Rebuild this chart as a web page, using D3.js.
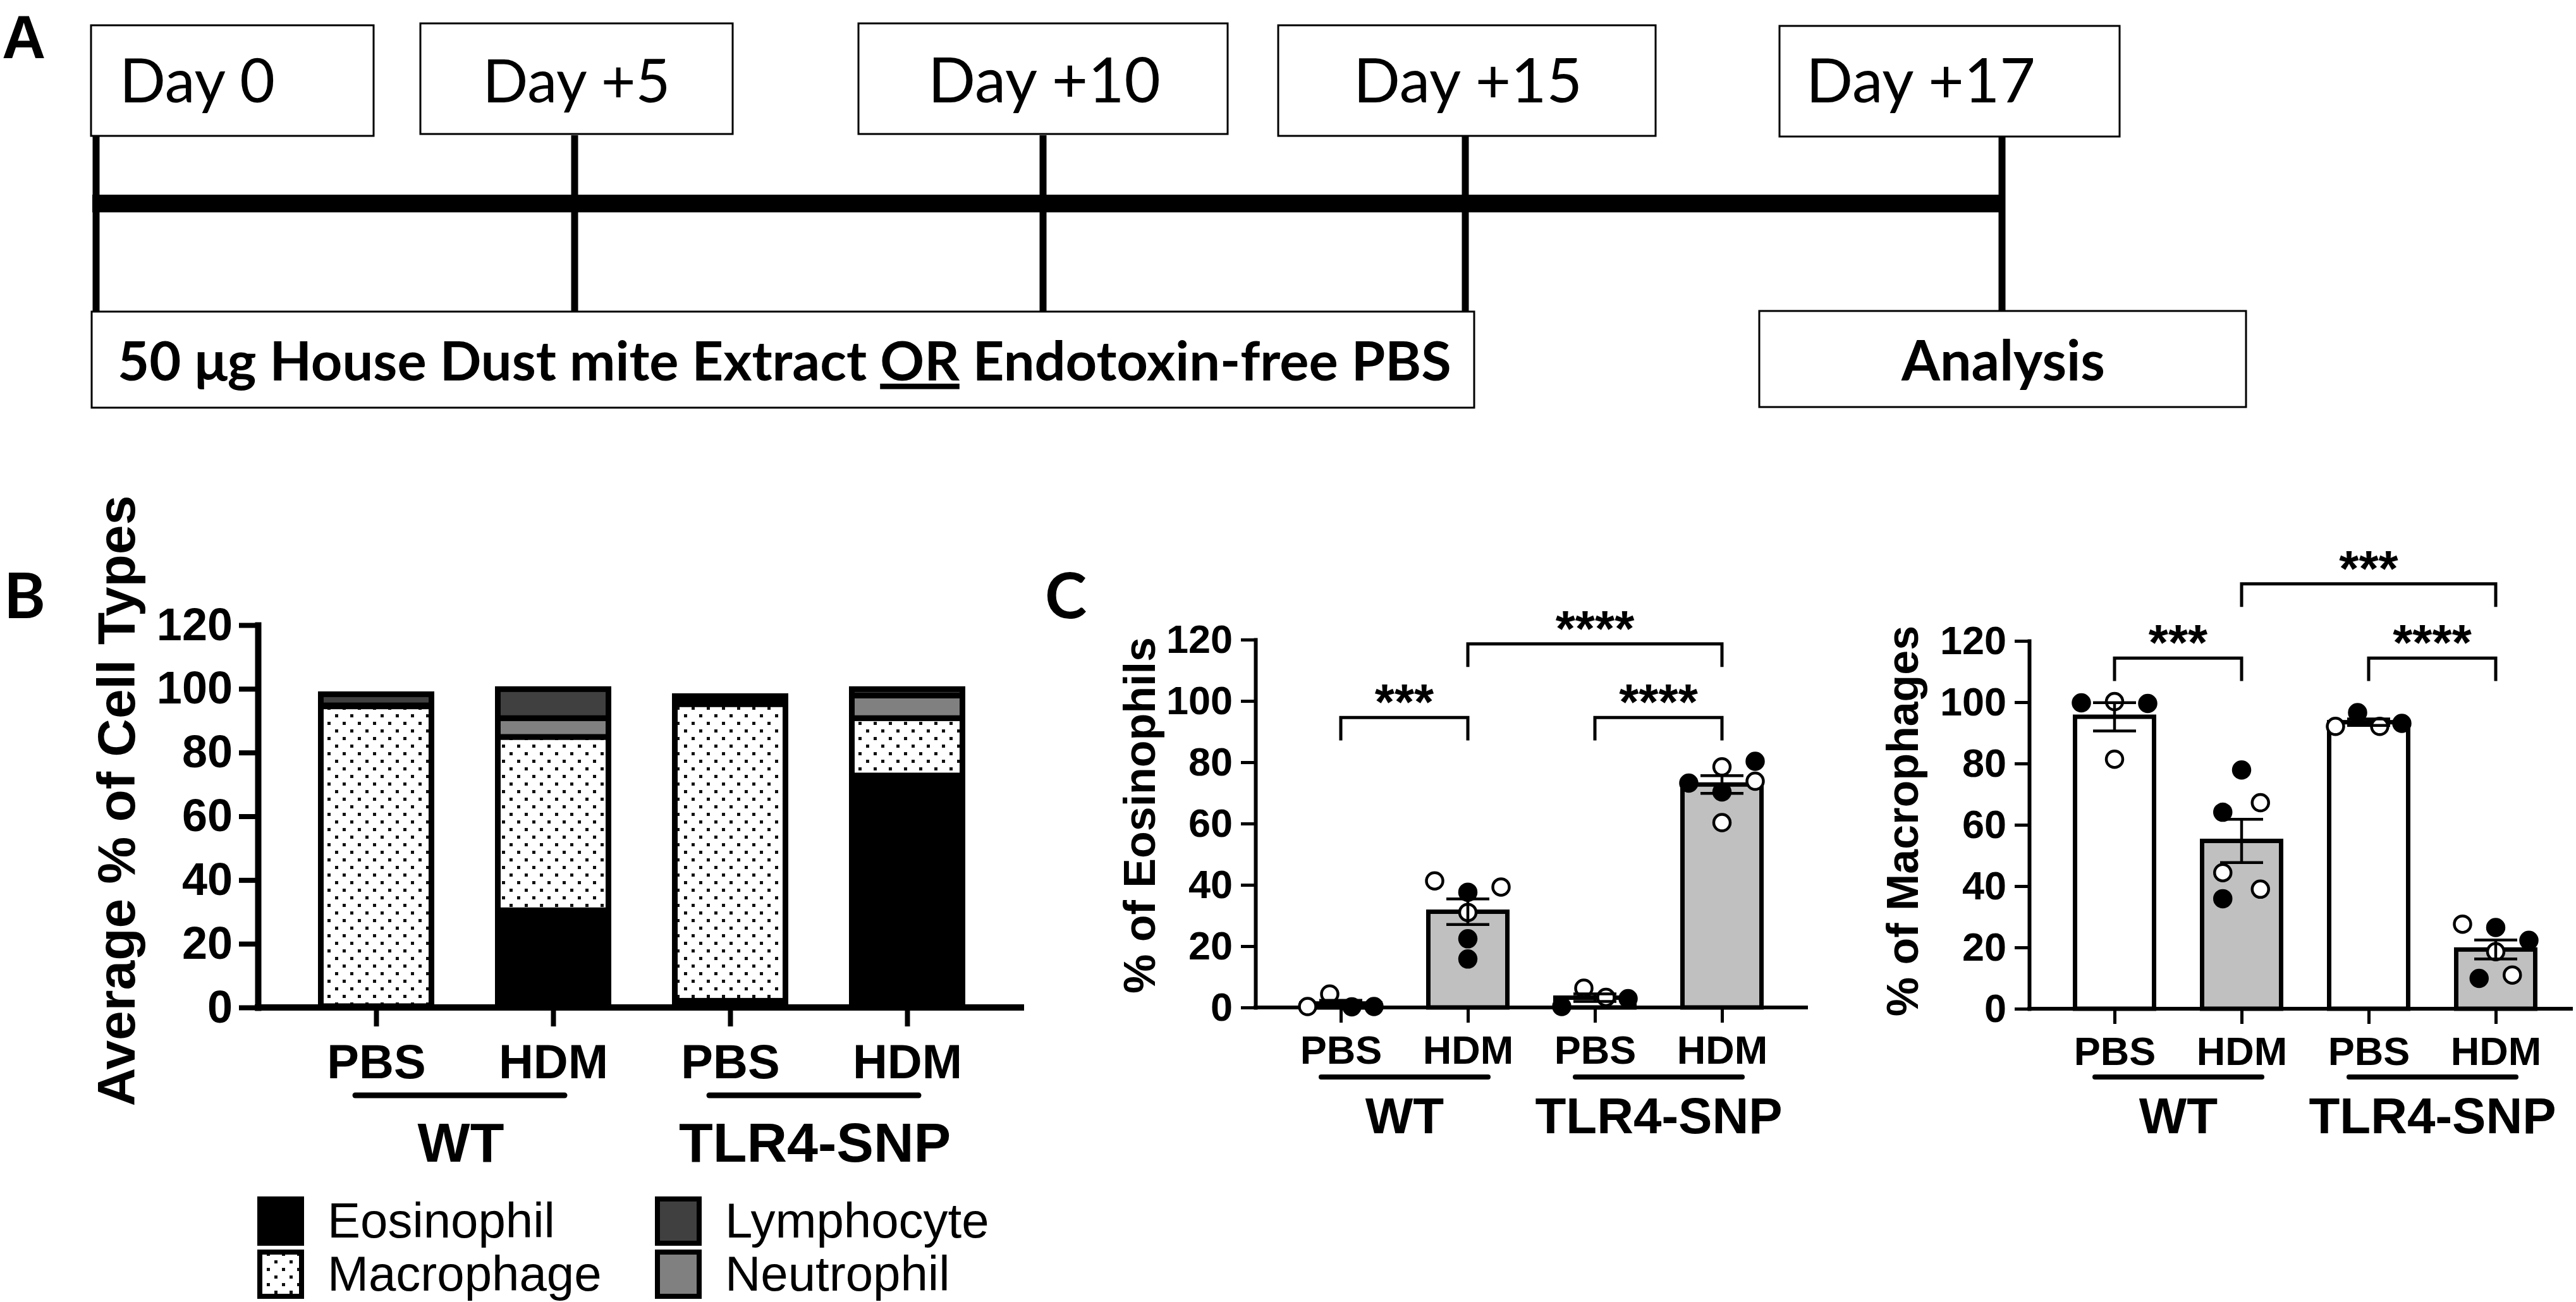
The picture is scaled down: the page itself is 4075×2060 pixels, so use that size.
<!DOCTYPE html>
<html><head><meta charset="utf-8">
<script src="https://cdn.jsdelivr.net/npm/d3@7"></script>
<style>html,body{margin:0;padding:0;background:#fff}</style>
</head><body><div id="chart"></div>
<script>
// ================= DATA =================
// Panel A – timeline
const timelineDays = [0, 5, 10, 15, 17];
const timelineLabels = ["Day 0", "Day +5", "Day +10", "Day +15", "Day +17"];
const treatmentTextBefore = "50 μg House Dust mite Extract ";
const treatmentTextOr = "OR";
const treatmentTextAfter = " Endotoxin-free PBS";
const analysisText = "Analysis";

// Panels B / C – categories
const conditions = ["WT|PBS", "WT|HDM", "TLR4-SNP|PBS", "TLR4-SNP|HDM"];
const genotypes = ["WT", "TLR4-SNP"];
const yTicks = [0, 20, 40, 60, 80, 100, 120];

// Panel B – average % of cell types (stack bottom -> top)
const cellTypes = ["Eosinophil", "Macrophage", "Neutrophil", "Lymphocyte"];
const eosinophilAvg = [0.4, 30.5, 2.1, 72.8];
const macrophageAvg = [94.1, 54.4, 93.1, 18.0];
const neutrophilAvg = [0.3, 5.9, 1.3, 7.1];
const lymphocyteAvg = [3.5, 9.1, 1.2, 2.0];
const legendOrder = ["Eosinophil", "Macrophage", "Lymphocyte", "Neutrophil"];

// Panel C – individual animals (% of Eosinophils)
const eosWT_PBS = [0.3, 4.4, 0.2, 0.3];
const eosWT_HDM = [41.3, 37.6, 39.3, 31.0, 22.4, 15.8];
const eosSNP_PBS = [0.3, 6.3, 3.3, 2.9];
const eosSNP_HDM = [73.2, 78.5, 80.3, 70.3, 73.8, 60.3];
// Panel C – individual animals (% of Macrophages)
const macWT_PBS = [99.8, 100.2, 99.6, 81.4];
const macWT_HDM = [77.9, 67.2, 64.1, 44.4, 39.0, 35.9];
const macSNP_PBS = [92.1, 96.6, 92.1, 93.1];
const macSNP_HDM = [27.6, 26.5, 22.3, 18.6, 11.0, 9.9];
// marker type per animal: 1 = filled circle, 0 = open circle
const eosWT_PBS_filled = [0, 0, 1, 1];
const eosWT_HDM_filled = [0, 1, 0, 0, 1, 1];
const eosSNP_PBS_filled = [1, 0, 0, 1];
const eosSNP_HDM_filled = [1, 0, 1, 1, 0, 0];
const macWT_PBS_filled = [1, 0, 1, 0];
const macWT_HDM_filled = [1, 0, 1, 0, 0, 1];
const macSNP_PBS_filled = [0, 1, 0, 1];
const macSNP_HDM_filled = [0, 1, 1, 0, 0, 1];
// significance annotations
const sigPairs = [["WT|PBS", "WT|HDM"], ["TLR4-SNP|PBS", "TLR4-SNP|HDM"], ["WT|HDM", "TLR4-SNP|HDM"]];
const eosSigLabels = ["***", "****", "****"];
const macSigLabels = ["***", "****", "***"];

// ================= LAYOUT (positions / styles only) =================
const L = {
  dayX: [152, 909, 1650, 2318, 3167],
  dayBoxes: [[144, 591, 40, 215], [665, 1159, 37, 212], [1358, 1942, 37, 212], [2022, 2619, 40, 215], [2815, 3353, 41, 216]],
  dayText: [["start", 189, 246], ["middle", 912, 297], ["middle", 1652, 368], ["middle", 2322, 362], ["start", 2857, 363]],
  // scatter jitter slots (units of 35px)
  eosSlots: [[-1.5, -0.5, 0.5, 1.5], [-1.5, 0, 1.5, 0, 0, 0], [-1.5, -0.5, 0.5, 1.5], [-1.5, 0, 1.5, 0, 1.5, 0]],
  macSlots: [[-1.5, 0, 1.5, 0], [0, 0.85, -0.85, -0.85, 0.85, -0.85], [-1.5, -0.5, 0.5, 1.5], [-1.5, 0, 1.5, 0, 0.75, -0.75]],
  eosBrackets: [94.6, 94.6, 118.6],
  macBrackets: [114.4, 114.4, 138.6],
  bracketLeg: 7.5
};
const FA = "Lato, 'Open Sans', sans-serif";
const FB = "'Liberation Sans', Arial, sans-serif";

// ================= SVG =================
const svg = d3.select("#chart").append("svg")
  .attr("width", 4075).attr("height", 2060)
  .style("background", "#fff").style("display", "block");
const defs = svg.append("defs");
const pat = defs.append("pattern").attr("id", "dots")
  .attr("patternUnits", "userSpaceOnUse").attr("width", 24).attr("height", 24);
pat.append("rect").attr("width", 24).attr("height", 24).attr("fill", "#fff");
pat.append("rect").attr("x", 2).attr("y", 2).attr("width", 5).attr("height", 5).attr("fill", "#111");
pat.append("rect").attr("x", 14).attr("y", 14).attr("width", 5).attr("height", 5).attr("fill", "#111");

function fitWidth(sel, target) {
  const node = sel.node();
  const w = node.getComputedTextLength();
  const fs = parseFloat(sel.attr("font-size"));
  if (w > 0) sel.attr("font-size", fs * target / w);
}

// ---------------- Panel A ----------------
const gA = svg.append("g");
const xA = d3.scaleLinear().domain(timelineDays).range(L.dayX);
gA.append("text").text("A").attr("x", 3).attr("y", 92)
  .attr("font-family", FB).attr("font-weight", 700).attr("font-size", 96);
gA.append("line").attr("x1", xA(0) - 6).attr("x2", xA(17) + 5).attr("y1", 322).attr("y2", 322)
  .attr("stroke", "#000").attr("stroke-width", 28);
gA.selectAll("line.v").data(timelineDays).join("line").attr("class", "v")
  .attr("x1", d => xA(d)).attr("x2", d => xA(d)).attr("y1", 214).attr("y2", 494)
  .attr("stroke", "#000").attr("stroke-width", 11);
timelineLabels.forEach((lab, i) => {
  const b = L.dayBoxes[i];
  gA.append("rect").attr("x", b[0]).attr("y", b[2]).attr("width", b[1] - b[0]).attr("height", b[3] - b[2])
    .attr("fill", "#fff").attr("stroke", "#000").attr("stroke-width", 3);
  const t = gA.append("text").text(lab).attr("x", L.dayText[i][1]).attr("y", 162)
    .attr("text-anchor", L.dayText[i][0]).attr("font-family", FA).attr("font-size", 100);
  fitWidth(t, L.dayText[i][2]);
});
gA.append("rect").attr("x", 145).attr("y", 493).attr("width", 2332 - 145).attr("height", 645 - 493)
  .attr("fill", "#fff").attr("stroke", "#000").attr("stroke-width", 3);
const tTreat = gA.append("text").attr("x", 186).attr("y", 602)
  .attr("font-family", FA).attr("font-weight", 700).attr("font-size", 86);
tTreat.append("tspan").text(treatmentTextBefore);
tTreat.append("tspan").text(treatmentTextOr).attr("text-decoration", "underline");
tTreat.append("tspan").text(treatmentTextAfter);
fitWidth(tTreat, 2110);
gA.append("rect").attr("x", 2783).attr("y", 492).attr("width", 3553 - 2783).attr("height", 644 - 492)
  .attr("fill", "#fff").attr("stroke", "#000").attr("stroke-width", 3);
const tAn = gA.append("text").text(analysisText).attr("x", 3169).attr("y", 602).attr("text-anchor", "middle")
  .attr("font-family", FA).attr("font-weight", 700).attr("font-size", 86);
fitWidth(tAn, 322);

// ---------------- Panel B ----------------
const gB = svg.append("g");
gB.append("text").text("B").attr("x", 6).attr("y", 978)
  .attr("font-family", FA).attr("font-weight", 700).attr("font-size", 100);
const yB = d3.scaleLinear().domain([0, 120]).range([1594, 989]);
const xB = d3.scalePoint().domain(conditions).range([595, 1435]);
const rowsB = conditions.map((c, i) => ({
  cond: c, Eosinophil: eosinophilAvg[i], Macrophage: macrophageAvg[i],
  Neutrophil: neutrophilAvg[i], Lymphocyte: lymphocyteAvg[i]
}));
const fillB = d3.scaleOrdinal().domain(cellTypes).range(["#000", "url(#dots)", "#808080", "#404040"]);
const stacked = d3.stack().keys(cellTypes)(rowsB);
const barWB = 175;
gB.selectAll("g.layer").data(stacked).join("g").attr("class", "layer")
  .attr("fill", d => fillB(d.key))
  .selectAll("rect").data(d => d).join("rect")
  .attr("x", d => xB(d.data.cond) - barWB / 2).attr("width", barWB)
  .attr("y", d => yB(d[1])).attr("height", d => yB(d[0]) - yB(d[1]))
  .attr("stroke", "#000").attr("stroke-width", 9);

function styleAxis(g, lw, tw, fs) {
  g.attr("font-family", FB).attr("font-weight", 700).attr("font-size", fs);
  g.selectAll("path.domain").attr("stroke-width", lw).attr("stroke-linecap", "square");
  g.selectAll(".tick line").attr("stroke-width", tw);
  g.selectAll(".tick text").attr("fill", "#000");
}
const yAxB = gB.append("g").attr("transform", "translate(408,0)")
  .call(d3.axisLeft(yB).tickValues(yTicks).tickSize(30).tickSizeOuter(0).tickPadding(10));
styleAxis(yAxB, 10, 8, 72);
gB.append("line").attr("x1", 403).attr("x2", 1620).attr("y1", yB(0)).attr("y2", yB(0))
  .attr("stroke", "#000").attr("stroke-width", 10);
const xAxB = gB.append("g").attr("transform", `translate(0,${yB(0)})`)
  .call(d3.axisBottom(xB).tickSize(30).tickPadding(28).tickFormat(d => d.split("|")[1]));
xAxB.select("path.domain").remove();
styleAxis(xAxB, 10, 8, 76);
genotypes.forEach(gt => {
  const cs = conditions.filter(c => c.startsWith(gt + "|"));
  const x1 = xB(cs[0]) - 33, x2 = xB(cs[cs.length - 1]) + 18;
  gB.append("line").attr("x1", x1).attr("x2", x2).attr("y1", 1733).attr("y2", 1733)
    .attr("stroke", "#000").attr("stroke-width", 9).attr("stroke-linecap", "round");
  gB.append("text").text(gt).attr("x", (xB(cs[0]) + xB(cs[1])) / 2 - 6).attr("y", 1838)
    .attr("text-anchor", "middle").attr("font-family", FB).attr("font-weight", 700).attr("font-size", 88);
});
gB.append("text").text("Average % of Cell Types")
  .attr("transform", "translate(213,1267) rotate(-90)").attr("text-anchor", "middle")
  .attr("font-family", FB).attr("font-weight", 700).attr("font-size", 84);
// legend
const legCols = [407, 1036], legRows = [1893, 1977];
legendOrder.forEach((k, i) => {
  const cx = legCols[Math.floor(i / 2)], cy = legRows[i % 2];
  gB.append("rect").attr("x", cx + 4).attr("y", cy + 4).attr("width", 66).attr("height", 70)
    .attr("fill", fillB(k)).attr("stroke", "#000").attr("stroke-width", 8);
  gB.append("text").text(k).attr("x", cx + 111).attr("y", cy + 65)
    .attr("font-family", FB).attr("font-size", 78);
});

// ---------------- Panel C ----------------
svg.append("text").text("C").attr("x", 1653).attr("y", 978)
  .attr("font-family", FA).attr("font-weight", 700).attr("font-size", 100);

function scatterPanel(opt) {
  const g = svg.append("g");
  const y = d3.scaleLinear().domain([0, 120]).range([opt.y0, opt.y120]);
  const x = d3.scalePoint().domain(conditions).range(opt.xr);
  const stats = conditions.map((c, i) => {
    const v = opt.values[i];
    const m = d3.mean(v);
    const sem = d3.deviation(v) / Math.sqrt(v.length);
    return { cond: c, mean: m, sem: sem, hdm: c.endsWith("HDM") };
  });
  const bw = 125;
  g.selectAll("rect.bar").data(stats).join("rect").attr("class", "bar")
    .attr("x", d => x(d.cond) - bw / 2).attr("width", bw)
    .attr("y", d => y(d.mean)).attr("height", d => y(0) - y(d.mean))
    .attr("fill", d => d.hdm ? "#c0c0c0" : "#fff").attr("stroke", "#000").attr("stroke-width", 7);
  // axes
  const ya = g.append("g").attr("transform", `translate(${opt.ax},0)`)
    .call(d3.axisLeft(y).tickValues(yTicks).tickSize(23).tickSizeOuter(0).tickPadding(13));
  styleAxis(ya, 6, 5, 63);
  g.append("line").attr("x1", opt.ax - 3).attr("x2", opt.xEnd).attr("y1", y(0)).attr("y2", y(0))
    .attr("stroke", "#000").attr("stroke-width", 6);
  const xa = g.append("g").attr("transform", `translate(0,${y(0)})`)
    .call(d3.axisBottom(x).tickSize(24).tickPadding(20).tickFormat(d => d.split("|")[1]));
  xa.select("path.domain").remove();
  styleAxis(xa, 6, 5, 63);
  // points
  conditions.forEach((c, i) => {
    const pts = opt.values[i].map((v, j) => ({ v, f: opt.filled[i][j], s: opt.slots[i][j] }));
    g.selectAll(null).data(pts).join("circle")
      .attr("cx", d => x(c) + d.s * 35).attr("cy", d => y(d.v)).attr("r", 13)
      .attr("fill", d => d.f ? "#000" : "#fff").attr("stroke", "#000").attr("stroke-width", 4.5);
  });
  // error bars (mean ± SEM)
  const eb = g.selectAll("g.eb").data(stats).join("g").attr("class", "eb")
    .attr("stroke", "#000").attr("stroke-width", 4.5);
  eb.append("line").attr("x1", d => x(d.cond)).attr("x2", d => x(d.cond))
    .attr("y1", d => y(d.mean - d.sem)).attr("y2", d => y(d.mean + d.sem));
  eb.append("line").attr("x1", d => x(d.cond) - 34).attr("x2", d => x(d.cond) + 34)
    .attr("y1", d => y(d.mean + d.sem)).attr("y2", d => y(d.mean + d.sem));
  eb.append("line").attr("x1", d => x(d.cond) - 34).attr("x2", d => x(d.cond) + 34)
    .attr("y1", d => y(d.mean - d.sem)).attr("y2", d => y(d.mean - d.sem));
  // significance brackets
  sigPairs.forEach((p, k) => {
    const x1 = x(p[0]), x2 = x(p[1]), yt = y(opt.brackets[k]), yl = y(opt.brackets[k] - L.bracketLeg);
    g.append("path").attr("d", `M${x1},${yl}V${yt}H${x2}V${yl}`)
      .attr("fill", "none").attr("stroke", "#000").attr("stroke-width", 5);
    g.append("text").text(opt.sig[k]).attr("x", (x1 + x2) / 2).attr("y", yt + 3)
      .attr("text-anchor", "middle").attr("font-family", FB).attr("font-weight", 700).attr("font-size", 80);
  });
  // group labels
  genotypes.forEach(gt => {
    const cs = conditions.filter(c => c.startsWith(gt + "|"));
    const x1 = x(cs[0]) - 31, x2 = x(cs[1]) + 32;
    g.append("line").attr("x1", x1).attr("x2", x2).attr("y1", 1704).attr("y2", 1704)
      .attr("stroke", "#000").attr("stroke-width", 8).attr("stroke-linecap", "round");
    g.append("text").text(gt).attr("x", (x1 + x2) / 2).attr("y", 1793)
      .attr("text-anchor", "middle").attr("font-family", FB).attr("font-weight", 700).attr("font-size", 80);
  });
  g.append("text").text(opt.title)
    .attr("transform", `translate(${opt.labX},${opt.labY}) rotate(-90)`).attr("text-anchor", "middle")
    .attr("font-family", FB).attr("font-weight", 700).attr("font-size", 70);
}

scatterPanel({
  y0: 1594, y120: 1012, xr: [2121, 2724], ax: 1986, xEnd: 2860,
  values: [eosWT_PBS, eosWT_HDM, eosSNP_PBS, eosSNP_HDM],
  filled: [eosWT_PBS_filled, eosWT_HDM_filled, eosSNP_PBS_filled, eosSNP_HDM_filled],
  slots: L.eosSlots, brackets: L.eosBrackets, sig: eosSigLabels,
  title: "% of Eosinophils", labX: 1827, labY: 1290
});
scatterPanel({
  y0: 1596, y120: 1014, xr: [3345, 3948], ax: 3210, xEnd: 4070,
  values: [macWT_PBS, macWT_HDM, macSNP_PBS, macSNP_HDM],
  filled: [macWT_PBS_filled, macWT_HDM_filled, macSNP_PBS_filled, macSNP_HDM_filled],
  slots: L.macSlots, brackets: L.macBrackets, sig: macSigLabels,
  title: "% of Macrophages", labX: 3034, labY: 1299
});
</script>
</body></html>
